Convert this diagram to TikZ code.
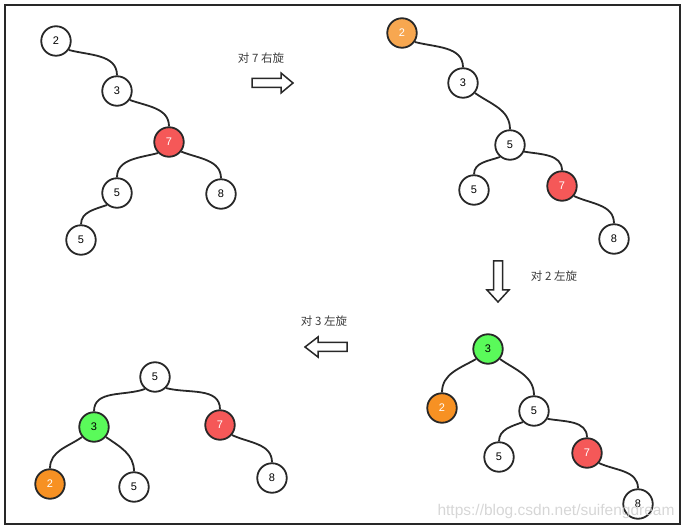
\documentclass[tikz,border=0pt]{standalone}
\usepackage{fontspec}
\setmainfont{Liberation Sans}
\newfontfamily\cjk{Noto Sans CJK SC}
\definecolor{nred}{RGB}{245,88,88}
\definecolor{lorange}{RGB}{247,167,80}
\definecolor{norange}{RGB}{247,145,35}
\definecolor{ngreen}{RGB}{90,250,90}
\definecolor{ink}{RGB}{40,40,40}
\begin{document}
\begin{tikzpicture}[x=1pt,y=1pt,
  nd/.style={circle, draw=ink, line width=1.8pt, minimum size=29.5pt, inner sep=0pt,
    font=\fontsize{11}{13}\selectfont, fill=white},
  rednd/.style={nd, fill=nred, text=white},
  lornd/.style={nd, fill=lorange, text=white},
  ornd/.style={nd, fill=norange, text=white},
  grnd/.style={nd, fill=ngreen, text=black},
  edge/.style={draw=ink, line width=1.8pt},
  blockarrow/.style={draw=ink, line width=1.5pt, fill=white, line join=miter},
  lbl/.style={font=\cjk\fontsize{11.5}{14}\selectfont, text=ink!90}
]
\useasboundingbox (0,0) rectangle (686,-529);
\draw[line width=2pt, ink] (5,-5) rectangle (680,-524);

% Tree 1
\node[nd] (a2) at (56,-41) {2};
\node[nd] (a3) at (117,-91) {3};
\node[rednd] (a7) at (169,-142) {7};
\node[nd] (a5) at (117,-193) {5};
\node[nd] (a8) at (221,-194) {8};
\node[nd] (a5b) at (81,-240) {5};
\draw[edge] (a2.-35) to[out=-15,in=90] (a3.north);
\draw[edge] (a3.-35) to[out=-20,in=90] (a7.north);
\draw[edge] (a7.-135) to[out=195,in=90] (a5.north);
\draw[edge] (a7.-38) to[out=-22,in=90] (a8.north);
\draw[edge] (a5.-130) to[out=200,in=90] (a5b.north);

% Tree 2
\node[lornd] (b2) at (402,-33) {2};
\node[nd] (b3) at (463,-83) {3};
\node[nd] (b5) at (510,-145) {5};
\node[nd] (b5l) at (474,-190) {5};
\node[rednd] (b7) at (562,-186) {7};
\node[nd] (b8) at (614,-239) {8};
\draw[edge] (b2.-35) to[out=-15,in=90] (b3.north);
\draw[edge] (b3.-40) to[out=-35,in=90] (b5.north);
\draw[edge] (b5.-130) to[out=200,in=90] (b5l.north);
\draw[edge] (b5.-25) to[out=-10,in=90] (b7.north);
\draw[edge] (b7.-40) to[out=-25,in=90] (b8.north);

% Tree 3
\node[grnd] (c3) at (488,-349) {3};
\node[ornd] (c2) at (442,-408) {2};
\node[nd] (c5) at (534,-411) {5};
\node[nd] (c5l) at (499,-457) {5};
\node[rednd] (c7) at (587,-453) {7};
\node[nd] (c8) at (638,-504) {8};
\draw[edge] (c3.-140) to[out=210,in=90] (c2.north);
\draw[edge] (c3.-40) to[out=-35,in=90] (c5.north);
\draw[edge] (c5.-135) to[out=200,in=90] (c5l.north);
\draw[edge] (c5.-30) to[out=-10,in=90] (c7.north);
\draw[edge] (c7.-40) to[out=-25,in=90] (c8.north);

% Tree 4
\node[nd] (d5) at (155,-377) {5};
\node[grnd] (d3) at (94,-427) {3};
\node[rednd] (d7) at (220,-425) {7};
\node[ornd] (d2) at (50,-484) {2};
\node[nd] (d5r) at (134,-487) {5};
\node[nd] (d8) at (272,-478) {8};
\draw[edge] (d5.-130) to[out=200,in=90] (d3.north);
\draw[edge] (d5.-45) to[out=-15,in=90] (d7.north);
\draw[edge] (d3.-140) to[out=215,in=90] (d2.north);
\draw[edge] (d3.-40) to[out=-35,in=90] (d5r.north);
\draw[edge] (d7.-40) to[out=-25,in=90] (d8.north);

% Block arrows
\draw[blockarrow] (252,-78.5) -- (281,-78.5) -- (281,-73) -- (293,-83) -- (281,-93) -- (281,-87.5) -- (252,-87.5) -- cycle;
\draw[blockarrow] (493.5,-261) -- (502.5,-261) -- (502.5,-290) -- (509,-290) -- (498,-302) -- (487,-290) -- (493.5,-290) -- cycle;
\draw[blockarrow] (347,-342.5) -- (318,-342.5) -- (318,-337) -- (305,-347) -- (318,-357) -- (318,-351.5) -- (347,-351.5) -- cycle;

% Labels
\node[lbl] (l1) at (261,-58) {对 7 右旋};
\node[lbl] (l2) at (554,-276) {对 2 左旋};
\node[lbl] (l3) at (324,-321) {对 3 左旋};

% Watermark
\node[text=gray!40, opacity=0.8, font=\fontsize{15.5}{18}\selectfont, inner sep=0pt] (wm) at (556,-511) {https://blog.csdn.net/suifengdream};
\end{tikzpicture}
\end{document}
